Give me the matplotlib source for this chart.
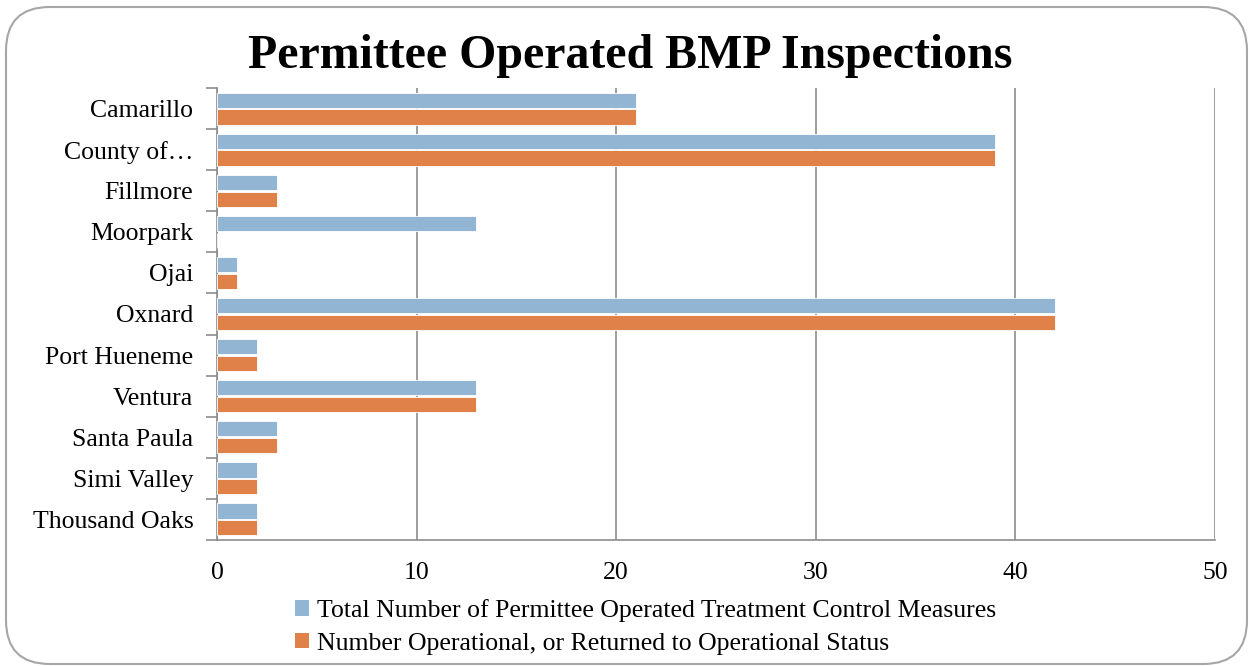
import matplotlib
matplotlib.use("Agg")
import matplotlib.pyplot as plt
import numpy as np
from matplotlib.patches import FancyBboxPatch, Patch

categories = ["Camarillo", "County of…", "Fillmore", "Moorpark", "Ojai", "Oxnard",
              "Port Hueneme", "Ventura", "Santa Paula", "Simi Valley", "Thousand Oaks"]
total_measures = [21, 39, 3, 13, 1, 42, 2, 13, 3, 2, 2]
operational = [21, 39, 3, 0, 1, 42, 2, 13, 3, 2, 2]
series_names = ["Total Number of Permittee Operated Treatment Control Measures",
                "Number Operational, or Returned to Operational Status"]
xticks = [0, 10, 20, 30, 40, 50]

blue = "#93B5D4"
orange = "#E0814A"
grid_c = "#8C8C8C"

plt.rcParams['font.family'] = ['Liberation Serif', 'DejaVu Serif']

fig = plt.figure(figsize=(12.51, 6.66), dpi=100)
frame = FancyBboxPatch((6/1251, 2/666), 1241/1251, 657/666,
                       boxstyle="round,pad=0,rounding_size=0.035",
                       transform=fig.transFigure, facecolor="white",
                       edgecolor="#A6A6A6", linewidth=1.5, mutation_aspect=1251/666,
                       zorder=-5)
fig.patches.append(frame)

ax = fig.add_axes([217/1251, 1-540/666, 998/1251, 452/666])
ax.set_facecolor("none")
y = np.arange(len(categories))
off = 0.205
h = 0.37
ax.barh(y - off, total_measures, height=h, color=blue, edgecolor="white", linewidth=0.6, zorder=3)
ax.barh(y + off, operational, height=h, color=orange, edgecolor="white", linewidth=0.6, zorder=3)

fs = 18.5
ax.set_xlim(0, 50)
ax.set_ylim(len(categories) - 0.5, -0.5)
ax.set_xticks(xticks)
ax.set_xticklabels([str(t) for t in xticks], fontsize=fs)
ax.tick_params(axis='x', length=0, pad=16)
ax.set_yticks(y)
ax.set_yticklabels(categories, fontsize=fs)
ax.tick_params(axis='y', which='major', length=0, pad=17)
ax.set_yticks(np.arange(len(categories) + 1) - 0.5, minor=True)
ax.tick_params(axis='y', which='minor', length=8, width=1.2, color=grid_c, direction='out')
ax.grid(axis='x', color=grid_c, linewidth=1.2, zorder=1)
for s in ['top', 'right']:
    ax.spines[s].set_visible(False)
for s in ['left', 'bottom']:
    ax.spines[s].set_color(grid_c)
    ax.spines[s].set_linewidth(1.2)

fig.text(630/1251, 1-56/666, "Permittee Operated BMP Inspections", ha='center', va='center',
         fontsize=34.5, fontweight='bold')

handles = [Patch(facecolor=blue, edgecolor='none'), Patch(facecolor=orange, edgecolor='none')]
fig.legend(handles, series_names, loc='upper left', bbox_to_anchor=(285/1251, 1-589/666),
           frameon=False, fontsize=fs, handlelength=0.55, handleheight=0.55,
           handletextpad=0.3, labelspacing=0.4, borderaxespad=0)

fig.savefig("out.png", dpi=100)
